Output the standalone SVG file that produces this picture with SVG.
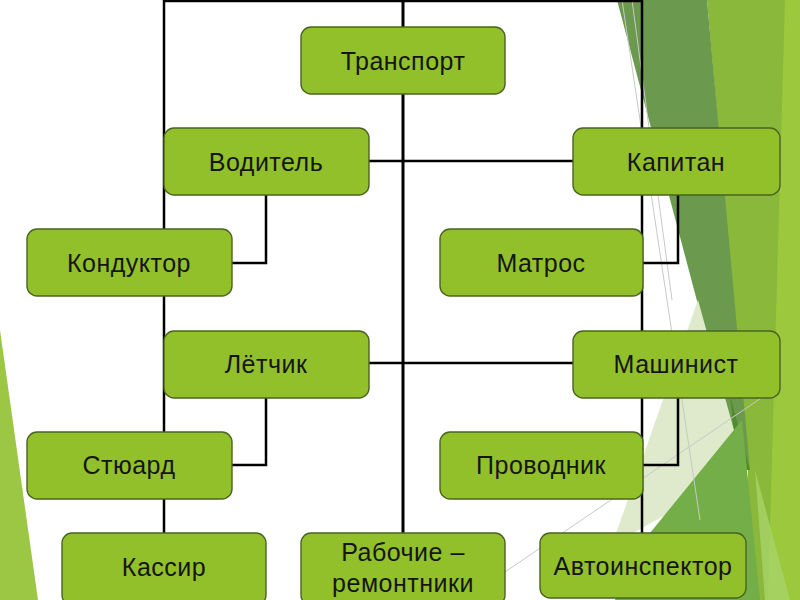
<svg xmlns="http://www.w3.org/2000/svg" width="800" height="600" viewBox="0 0 800 600">
<style>
.node rect{fill:#92c02a;stroke:#4a6420;stroke-width:1.4}
.node text{font-family:"Liberation Sans",Arial,sans-serif;font-size:25px;letter-spacing:0.5px;fill:#151515;text-anchor:middle;dominant-baseline:central}
.node text.b{dominant-baseline:auto}
.conn{fill:none;stroke:#000;stroke-width:2.5}
.thin{stroke:#c8c8c8;stroke-width:1;fill:none}
</style>
<rect width="800" height="600" fill="#ffffff"/>
<g id="background">
  <polygon points="0,330 0,600 38,600" fill="#9cc744"/>
  <polygon points="707,0 800,0 800,600 745,600 748,470" fill="#8ab83a"/>
  <polygon points="785,0 800,0 800,600 768,600" fill="#9cc83e"/>
  <polygon points="617,0 707,0 750,470 742,470" fill="#6b9a4e"/>
  <polygon points="730,395 750,470 738,470" fill="#4f8c2e"/>
  <polygon points="698,300 745,470 612,545" fill="#deeacb"/>
  <polygon points="628,560 742,420 760,600 615,600" fill="#74ae48"/>
  <polygon points="755,470 790,600 765,600" fill="#a8d36a" opacity="0.8"/>
  <line class="thin" x1="622" y1="0" x2="700" y2="520"/>
  <line class="thin" x1="632" y1="0" x2="672" y2="300"/>
  <line class="thin" x1="505" y1="572" x2="770" y2="392"/>
</g>
<g id="connectors">
  <polyline class="conn" points="164,533 164,1 642,1 642,533"/>
  <line class="conn" x1="403" y1="0" x2="403" y2="533" style="stroke-width:3"/>
  <line class="conn" x1="369" y1="161" x2="573" y2="161"/>
  <polyline class="conn" points="266,195 266,263 232,263"/>
  <polyline class="conn" points="678,195 678,263 643,263"/>
  <line class="conn" x1="369" y1="363" x2="573" y2="363"/>
  <polyline class="conn" points="266,397 266,465 232,465"/>
  <polyline class="conn" points="678,397 678,465 643,465"/>
</g>
<g id="n-transport" class="node"><rect x="301" y="27" width="204" height="67" rx="10"/><text x="403" y="61">Транспорт</text></g>
<g id="n-voditel" class="node"><rect x="164" y="128" width="205" height="67" rx="10"/><text x="266" y="162">Водитель</text></g>
<g id="n-kapitan" class="node"><rect x="573" y="128" width="207" height="67" rx="10"/><text x="676" y="162">Капитан</text></g>
<g id="n-konduktor" class="node"><rect x="27" y="229" width="205" height="67" rx="10"/><text x="129" y="263">Кондуктор</text></g>
<g id="n-matros" class="node"><rect x="440" y="229" width="203" height="67" rx="10"/><text x="541" y="263">Матрос</text></g>
<g id="n-letchik" class="node"><rect x="164" y="331" width="205" height="67" rx="10"/><text x="266" y="364">Лётчик</text></g>
<g id="n-mashinist" class="node"><rect x="573" y="331" width="207" height="67" rx="10"/><text x="676" y="364">Машинист</text></g>
<g id="n-styuard" class="node"><rect x="27" y="432" width="205" height="67" rx="10"/><text x="129" y="465">Стюард</text></g>
<g id="n-provodnik" class="node"><rect x="440" y="432" width="203" height="67" rx="10"/><text x="541" y="465">Проводник</text></g>
<g id="n-kassir" class="node"><rect x="62" y="533" width="204" height="72" rx="10"/><text x="164" y="567">Кассир</text></g>
<g id="n-rabochie" class="node"><rect x="301" y="533" width="204" height="72" rx="10"/><text class="b" x="403" y="561">Рабочие –</text><text class="b" x="403" y="592">ремонтники</text></g>
<g id="n-avtoinspektor" class="node"><rect x="540" y="533" width="206" height="65" rx="10"/><text x="643" y="566">Автоинспектор</text></g>
</svg>
